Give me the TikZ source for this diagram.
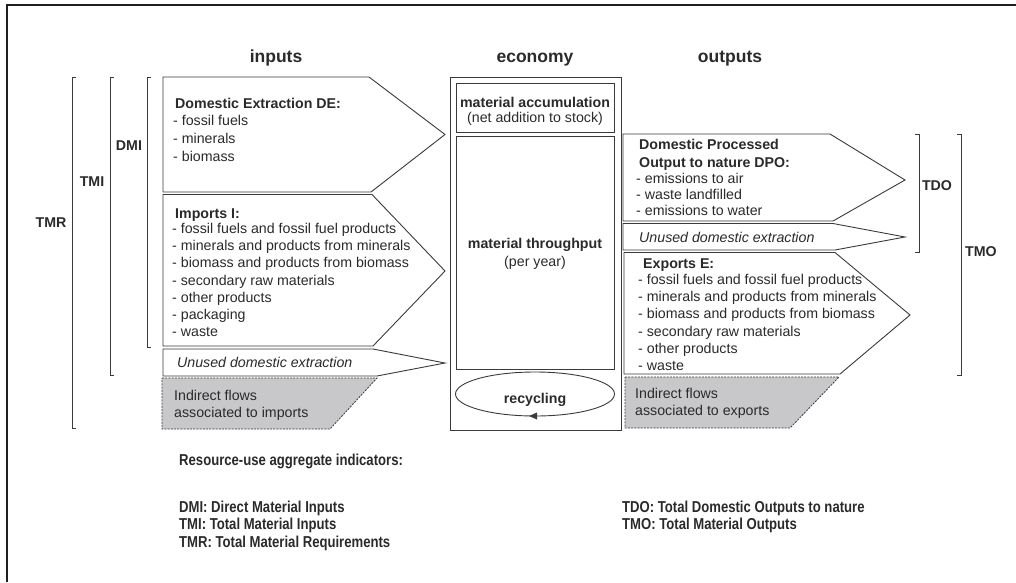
\documentclass[tikz,border=0pt]{standalone}
\usepackage{fontspec}
\setmainfont{Liberation Sans}
\newfontfamily\narrowfont[FakeStretch=0.83]{Liberation Sans}
\usetikzlibrary{arrows.meta}
\definecolor{txt}{HTML}{2A2A2A}
\definecolor{ln}{HTML}{3A3A3A}
\definecolor{shade}{HTML}{C8C8CA}
\tikzset{
  body/.style={anchor=base west, inner sep=0pt, text=txt, font=\fontsize{14.2}{17}\selectfont},
  title/.style={body, font=\fontsize{14.2}{17}\selectfont\bfseries},
  itl/.style={body, font=\fontsize{14.2}{17}\selectfont\itshape},
  ctr/.style={body, anchor=base},
  ctrb/.style={title, anchor=base},
  head/.style={anchor=base, inner sep=0pt, text=txt, font=\fontsize{17.5}{20}\selectfont\bfseries},
  lbl/.style={anchor=center, inner sep=0pt, text=txt, font=\fontsize{14.2}{17}\selectfont\bfseries},
  foot/.style={anchor=base west, inner sep=0pt, text=txt, font=\fontsize{15.8}{17}\selectfont\narrowfont\bfseries},
  flow/.style={draw=ln, line width=0.9pt, fill=white, line join=miter},
  ind/.style={draw=ln, line width=0.8pt, dashed, dash pattern=on 2pt off 1.2pt, fill=shade},
  brk/.style={draw=ln, line width=0.9pt},
  box/.style={draw=ln, line width=1pt},
  frame/.style={draw=black!88, line width=2.6pt}
}
\begin{document}
\begin{tikzpicture}[x=1pt,y=-1pt]
\useasboundingbox (0,0) rectangle (1016,582);
% frame
\draw[frame] (7,582) -- (7,5) -- (1016,5);

% headers
\node[head] (hin) at (276,62) {inputs};
\node[head] (hec) at (535,62) {economy};
\node[head] (hout) at (730,62) {outputs};

% left brackets
\draw[brk] (76,77) -- (72,77) -- (72,428) -- (76,428);
\draw[brk] (114,77) -- (110,77) -- (110,375) -- (114,375);
\draw[brk] (151,77) -- (147,77) -- (147,347) -- (151,347);
\node[lbl] (tmr) at (51,223) {TMR};
\node[lbl] (tmi) at (92,182) {TMI};
\node[lbl] (dmi) at (129,146) {DMI};

% right brackets
\draw[brk] (915,134) -- (919,134) -- (919,252) -- (915,252);
\draw[brk] (957,134) -- (961,134) -- (961,375) -- (957,375);
\node[lbl] (tdo) at (937,186) {TDO};
\node[lbl] (tmo) at (981,252) {TMO};

% input flows
\draw[flow] (163,77) -- (369,77) -- (445,134.5) -- (371,192) -- (163,192) -- cycle;
\draw[flow] (163,194.5) -- (372,194.5) -- (445,271) -- (373,346) -- (163,346) -- cycle;
\draw[flow] (163,349) -- (373,349) -- (445,363) -- (377,376) -- (163,376) -- cycle;
\draw[ind] (162,378) -- (377,378) -- (330,429) -- (162,429) -- cycle;

\node[title] (de0) at (175,108) {Domestic Extraction DE:};
\foreach \t [count=\i] in {- fossil fuels, - minerals, - biomass}
  \node[body] (de\i) at (173,108+17.7*\i) {\t};

\node[title] (im0) at (175,218) {Imports I:};
\foreach \t [count=\i from 0] in {- fossil fuels and fossil fuel products, - minerals and products from minerals, - biomass and products from biomass, - secondary raw materials, - other products, - packaging, - waste}
  \node[body] (im\i x) at (172,233.5+17.2*\i) {\t};

\node[itl] (unin) at (177,367.5) {Unused domestic extraction};
\node[body] (indin1) at (174,400) {Indirect flows};
\node[body] (indin2) at (174,417) {associated to imports};

% economy
\draw[box] (450,77) rectangle (621,430);
\draw[box] (456,83) rectangle (614,132);
\draw[box] (456,136) rectangle (614,369);
\node[ctrb] (acc1) at (535,107) {material accumulation};
\node[ctr] (acc2) at (535,122.5) {(net addition to stock)};
\node[ctrb] (thr1) at (535,248) {material throughput};
\node[ctr] (thr2) at (535,266) {(per year)};
\draw[draw=ln, line width=0.9pt] (535,394) ellipse [x radius=79.5, y radius=22];
\node[ctrb] (rec) at (535,403) {recycling};
\fill[ln] (529,416) -- (537,412.5) -- (537,419.5) -- cycle;

% output flows
\draw[flow] (623,134) -- (830,134) -- (905,180) -- (833,221) -- (623,221) -- cycle;
\draw[flow] (623,223.5) -- (833,223.5) -- (905,237) -- (835,250) -- (623,250) -- cycle;
\draw[flow] (624,252.5) -- (835,252.5) -- (910,315) -- (840,374) -- (624,374) -- cycle;
\draw[ind] (625,377) -- (839,377) -- (790,428) -- (625,428) -- cycle;

\node[title] (dpo1) at (639,149) {Domestic Processed};
\node[title] (dpo2) at (639,167) {Output to nature DPO:};
\foreach \t [count=\i] in {- emissions to air, - waste landfilled, - emissions to water}
  \node[body] (dpo\i x) at (636,167+16*\i) {\t};

\node[itl] (unout) at (639,242) {Unused domestic extraction};

\node[title] (ex0) at (643,268) {Exports E:};
\foreach \t [count=\i] in {- fossil fuels and fossil fuel products, - minerals and products from minerals, - biomass and products from biomass, - secondary raw materials, - other products, - waste}
  \node[body] (ex\i) at (638,267+17.3*\i) {\t};

\node[body] (indout1) at (635,398) {Indirect flows};
\node[body] (indout2) at (635,415) {associated to exports};

% footer
\node[foot] (f0) at (179,465) {Resource-use aggregate indicators:};
\node[foot] (f1) at (179,512) {DMI: Direct Material Inputs};
\node[foot] (f2) at (179,529.5) {TMI: Total Material Inputs};
\node[foot] (f3) at (179,547) {TMR: Total Material Requirements};
\node[foot] (f4) at (622,512) {TDO: Total Domestic Outputs to nature};
\node[foot] (f5) at (622,529.5) {TMO: Total Material Outputs};
\end{tikzpicture}
\end{document}
